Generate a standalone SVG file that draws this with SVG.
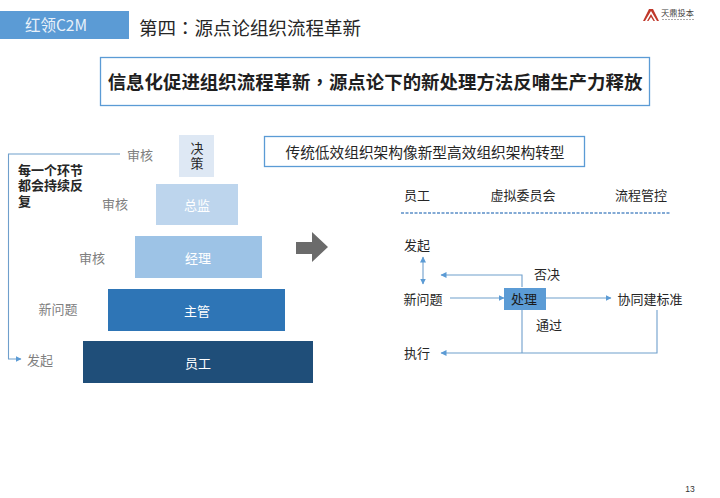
<svg xmlns="http://www.w3.org/2000/svg" width="720" height="498" viewBox="0 0 720 498">
<defs>
<marker id="ah" markerWidth="7" markerHeight="7" refX="5.5" refY="3" orient="auto-start-reverse" markerUnits="userSpaceOnUse"><path d="M0,0 L6,3 L0,6 Z" fill="#5b9bd5"/></marker>
</defs>
<style>
text{font-family:"Noto Sans CJK SC","Liberation Sans",sans-serif;text-anchor:middle}
.tc{font-family:"Noto Sans CJK TC",sans-serif}
.g{fill:#7f7f7f;font-size:13px}
.k{fill:#262626;font-size:13px}
.w{fill:#fff;font-size:13px}
.n{font-size:13px;font-weight:700;fill:#262626;text-anchor:start}
.b{fill:#fff;stroke:#5b9bd5;stroke-width:1.3}
.c{fill:none;stroke:#6f9fcc;stroke-width:1.1}
</style>
<rect width="720" height="498" fill="#fff"/>
<g id="header">
<rect x="0" y="11" width="129" height="28" fill="#5b9bd5"/>
<text x="56" y="31" font-size="15.500" fill="#e8f1fa">红领C2M</text>
<text x="250" y="35" font-size="18.500" fill="#262626">第四<tspan class="tc">：</tspan>源点论组织流程革新</text>
</g>
<g id="logo">
<path d="M643,21 L649,9 L653,9 L659,21 L657,21 L651,11 L645,21 Z M647,21 L651,14 L655,21 L653.500,21 L651,17 L648.500,21 Z" fill="#c0392b"/>
<text x="677.500" y="16" font-size="8.200" fill="#444">天鼎投本</text>
<path d="M662,19.500 H694" stroke="#aaa" stroke-width="1" stroke-dasharray="2 1" fill="none"/>
</g>
<g id="headline">
<rect class="b" x="100.500" y="57.500" width="549" height="48"/>
<text x="375" y="89" font-size="18.450" font-weight="700" fill="#1f1f1f">信息化促进组织流程革新<tspan class="tc">，</tspan>源点论下的新处理方法反哺生产力释放</text>
</g>
<g id="node-juece">
<rect x="179" y="135" width="35" height="42" fill="#dee8f4"/>
<text class="k"><tspan x="197" y="153">决</tspan><tspan x="197" y="168">策</tspan></text>
</g>
<g id="node-zongjian">
<rect x="156" y="184" width="82" height="41" fill="#bdd5ed"/>
<text class="w" x="197" y="210">总监</text>
</g>
<g id="node-jingli">
<rect x="135" y="236" width="127" height="42" fill="#9dc3e6"/>
<text class="w" x="198" y="263">经理</text>
</g>
<g id="node-zhuguan">
<rect x="108" y="289" width="177" height="42" fill="#2e75b6"/>
<text class="w" x="197" y="316">主管</text>
</g>
<g id="node-yuangong">
<rect x="83" y="341" width="230" height="42" fill="#1f4e79"/>
<text class="w" x="198" y="368">员工</text>
</g>
<g id="side-labels">
<text class="g" x="140" y="160">审核</text>
<text class="g" x="115" y="209">审核</text>
<text class="g" x="92" y="263">审核</text>
<text class="g" x="58" y="314">新问题</text>
<text class="g" x="40" y="365">发起</text>
</g>
<g id="note">
<text class="n"><tspan x="18" y="175">每一个环节</tspan><tspan x="18" y="190">都会持续反</tspan><tspan x="18" y="206">复</tspan></text>
</g>
<g id="big-arrow">
<path d="M296,242 L312,242 L312,232 L328,247 L312,262 L312,254 L296,254 Z" fill="#6b6b6b"/>
</g>
<g id="subtitle">
<rect class="b" x="264.500" y="136.500" width="320" height="30"/>
<text x="425" y="158" font-size="14.700" fill="#262626">传统低效组织架构像新型高效组织架构转型</text>
</g>
<g id="columns">
<text class="k" x="417" y="200">员工</text>
<text class="k" x="523" y="200">虚拟委员会</text>
<text class="k" x="641" y="200">流程管控</text>
</g>
<g id="flow-labels">
<text class="k" x="417" y="250">发起</text>
<text class="k" x="423" y="304">新问题</text>
<text class="k" x="547" y="279">否决</text>
<text class="k" x="549" y="330">通过</text>
<text class="k" x="650" y="304">协同建标准</text>
<text class="k" x="417" y="358">执行</text>
</g>
<g id="connectors">
<path class="c" d="M120,154 H8.500 V359 H21" marker-end="url(#ah)"/>
<path d="M401,213 H671" fill="none" stroke="#5b8fc7" stroke-width="1.500" stroke-dasharray="3 1.500"/>
<path class="c" d="M423,257 V284" marker-start="url(#ah)" marker-end="url(#ah)"/>
<path class="c" d="M450,298 H504" marker-end="url(#ah)"/>
<path class="c" d="M522,287 V275 H441" marker-end="url(#ah)"/>
<path class="c" d="M546,298 H611" marker-end="url(#ah)"/>
<path class="c" d="M522,310 V353"/>
<path class="c" d="M657,310 V353 H441" marker-end="url(#ah)"/>
</g>
<g id="node-chuli">
<rect x="504" y="288" width="42" height="22" fill="#5b9bd5"/>
<text x="524" y="304" font-size="13" fill="#1a1a1a">处理</text>
</g>
<g id="page-number">
<text x="690" y="492" font-size="8.500" fill="#333" style="font-family:'Liberation Sans',sans-serif">13</text>
</g>
</svg>
